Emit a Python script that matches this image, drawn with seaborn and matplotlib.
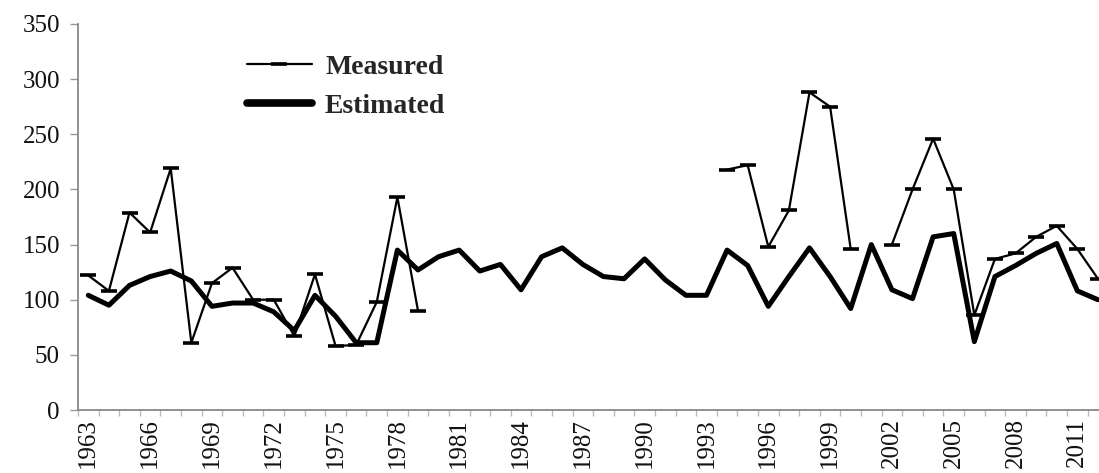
import numpy as np
import pandas as pd
import matplotlib
matplotlib.use('Agg')
import matplotlib.pyplot as plt
from matplotlib.lines import Line2D
from matplotlib.ticker import FixedLocator
import seaborn as sns

years = list(range(1963, 2013))
estimated = [104, 95, 113, 121, 126, 117, 94, 97, 97, 89,
             72, 104, 85, 61, 61, 145, 127, 139, 145, 126,
             132, 109, 139, 147, 132, 121, 119, 137, 118, 104,
             104, 145, 131, 94, 121, 147, 121, 92, 150, 109,
             101, 157, 160, 62, 121, 131, 142, 151, 108, 100]
measured = [122, 108, 179, 161, 219, 61, 115, 129, 100, 100,
            67, 123, 58, 59, 98, 193, 90, np.nan, np.nan, np.nan,
            np.nan, np.nan, np.nan, np.nan, np.nan, np.nan, np.nan, np.nan, np.nan, np.nan,
            np.nan, 218, 222, 148, 181, 288, 275, 146, np.nan, 150,
            200, 246, 200, 86, 137, 142, 157, 167, 146, 119]
label_years = years[::3]
y_ticks = [0, 50, 100, 150, 200, 250, 300, 350]

sns.set_style('white')
plt.rcParams['font.family'] = ['Liberation Serif', 'DejaVu Serif']

df = pd.DataFrame({'year': years, 'estimated': estimated, 'measured': measured})
# give each unbroken stretch of measurements its own unit so gaps stay open
df['run'] = df['measured'].isna().cumsum()
meas = df.dropna(subset=['measured'])

fig = plt.figure(figsize=(10.99, 4.73), dpi=100)
ax = fig.add_axes([78 / 1099, 63 / 473, 1021 / 1099, 386 / 473])

sns.lineplot(data=meas, x='year', y='measured', units='run', estimator=None,
             color='black', lw=1.6, marker='_', markersize=12,
             markeredgewidth=2.6, markeredgecolor='black', ax=ax)
sns.lineplot(data=df, x='year', y='estimated', color='black', lw=3.6, ax=ax)

ax.set_xlim(1962.5, 2012.05)
ax.set_ylim(0, 350)
ax.set_xlabel('')
ax.set_ylabel('')

# labels every third year, small tick marks on category boundaries
ax.xaxis.set_major_locator(FixedLocator(label_years))
ax.set_xticklabels([str(y) for y in label_years], rotation=90)
ax.xaxis.set_minor_locator(FixedLocator([y - 0.5 for y in years]))
ax.tick_params(axis='x', which='major', length=0, pad=6, labelsize=18,
               labelcolor='#111111')
ax.tick_params(axis='x', which='minor', length=4, width=1, color='#bbbbbb',
               bottom=True)
ax.set_yticks(y_ticks)
ax.tick_params(axis='y', length=6, width=1, color='#999999', pad=7,
               labelsize=18, labelcolor='#111111', left=True)

for side in ['top', 'right']:
    ax.spines[side].set_visible(False)
for side in ['left', 'bottom']:
    ax.spines[side].set_color('#888888')
    ax.spines[side].set_linewidth(1.3)

handles = [
    Line2D([], [], color='black', lw=1.6, marker='_', markersize=12, markeredgewidth=2.6),
    Line2D([], [], color='black', lw=5.5),
]
ax.legend(handles, ['Measured', 'Estimated'], loc='upper left',
          bbox_to_anchor=(0.1655, 0.922), frameon=False,
          prop={'weight': 'bold', 'size': 20}, handlelength=2.34,
          handletextpad=0.47, labelspacing=0.51, borderaxespad=0, borderpad=0)

fig.savefig('out.png', dpi=100)
